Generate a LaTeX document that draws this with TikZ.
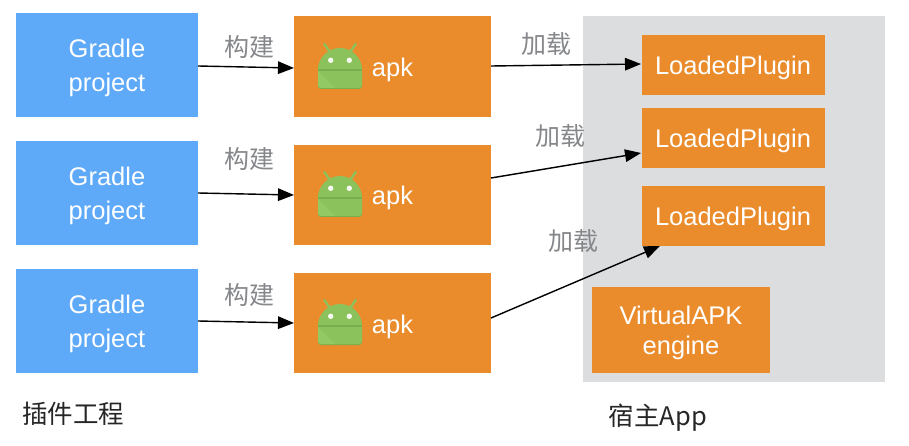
\documentclass[tikz,border=0pt]{standalone}
\usepackage{fontspec}
\setmainfont{Liberation Sans}
\newfontfamily\cjk{Noto Sans CJK SC}
\usetikzlibrary{arrows.meta}
\definecolor{bluebox}{HTML}{5EA9F8}
\definecolor{orangebox}{HTML}{EA8C2C}
\definecolor{hostgrey}{HTML}{DCDDDF}
\definecolor{labelgrey}{HTML}{85878A}
\definecolor{droid}{HTML}{8BC25B}
\definecolor{droiddark}{HTML}{79AE4E}
\definecolor{droidlight}{HTML}{93C964}
\tikzset{
  x=1pt,y=-1pt,
  every node/.style={inner sep=0pt,outer sep=0pt},
  boxtext/.style={text=white,font=\fontsize{25.5}{34}\selectfont,align=center},
  enginetext/.style={text=white,font=\fontsize{25.5}{30}\selectfont,align=center},
  zh/.style={font=\cjk\fontsize{25}{30}\selectfont,text=labelgrey},
  captiontext/.style={font=\cjk\fontsize{25.5}{30}\selectfont,text=black!85},
  link/.style={draw=black,line width=1.4pt,-{Triangle[length=16pt,width=12.5pt]}},
  droidicon/.pic={
    \fill[droid] (-17,-24) -- (-15,-25) -- (-8.5,-16) -- (-11,-15) -- cycle;
    \fill[droid] (17,-24) -- (15,-25) -- (8.5,-16) -- (11,-15) -- cycle;
    \fill[droiddark] (-22,3) arc[start angle=180,end angle=360,radius=22] -- (22,18) arc[start angle=0,end angle=90,radius=3] -- (-19,21) arc[start angle=90,end angle=180,radius=3] -- cycle;
    \fill[droid] (-22,2) arc[start angle=180,end angle=360,radius=22] -- (22,17) arc[start angle=0,end angle=90,radius=3] -- (-19,20) arc[start angle=90,end angle=180,radius=3] -- cycle;
    \fill[droiddark] (-22,1) rectangle (22,3);
    \fill[droidlight] (-22,3) -- (-5,20) -- (-19,20) arc[start angle=90,end angle=180,radius=3] -- cycle;
    \fill[white!92!droid] (-9.3,-7.7) circle[radius=2.7];
    \fill[white!92!droid] (9.3,-7.7) circle[radius=2.7];
  }
}
\begin{document}
\begin{tikzpicture}
\useasboundingbox (0,0) rectangle (909,446);
\node[fill=hostgrey,minimum width=302pt,minimum height=366pt,anchor=north west] (host) at (583,16) {};
% plugin projects
\node[fill=bluebox,minimum width=182pt,minimum height=104pt,anchor=north west] (g1) at (16,13) {};
\node[fill=bluebox,minimum width=182pt,minimum height=104pt,anchor=north west] (g2) at (16,141) {};
\node[fill=bluebox,minimum width=182pt,minimum height=104pt,anchor=north west] (g3) at (16,269) {};
\node[boxtext] (gt1) at (107,67.5) {Gradle\\project};
\node[boxtext] (gt2) at (107,195.5) {Gradle\\project};
\node[boxtext] (gt3) at (107,323.5) {Gradle\\project};
% apk boxes
\node[fill=orangebox,minimum width=197pt,minimum height=101pt,anchor=north west] (a1) at (294,16) {};
\node[fill=orangebox,minimum width=197pt,minimum height=100pt,anchor=north west] (a2) at (294,145) {};
\node[fill=orangebox,minimum width=197pt,minimum height=100pt,anchor=north west] (a3) at (294,273) {};
\pic at (340,68) {droidicon};
\pic at (340,196) {droidicon};
\pic at (340,324) {droidicon};
\node[boxtext,anchor=base] (at1) at (392.5,77) {apk};
\node[boxtext,anchor=base] (at2) at (392.5,205) {apk};
\node[boxtext,anchor=base] (at3) at (392.5,333) {apk};
% host contents
\node[fill=orangebox,minimum width=183pt,minimum height=60pt,anchor=north west] (l1) at (642,35) {};
\node[fill=orangebox,minimum width=183pt,minimum height=60pt,anchor=north west] (l2) at (642,108) {};
\node[fill=orangebox,minimum width=183pt,minimum height=60pt,anchor=north west] (l3) at (642,186) {};
\node[boxtext] (lt1) at (733,68) {LoadedPlugin};
\node[boxtext] (lt2) at (733,141) {LoadedPlugin};
\node[boxtext] (lt3) at (733,219) {LoadedPlugin};
\node[fill=orangebox,minimum width=178pt,minimum height=86pt,anchor=north west] (eng) at (592,287) {};
\node[enginetext] (engt) at (681,333) {VirtualAPK\\engine};
% connectors
\coordinate (s1) at (198,66); \coordinate (e1) at (294,68);
\coordinate (s2) at (198,193); \coordinate (e2) at (294,195);
\coordinate (s3) at (198,321); \coordinate (e3) at (294,323);
\coordinate (p1) at (491,66); \coordinate (q1) at (641,64);
\coordinate (p2) at (491,178); \coordinate (q2) at (641,153);
\coordinate (p3) at (491,318); \coordinate (q3) at (660,246);
\draw[link] (s1) -- (e1);
\draw[link] (s2) -- (e2);
\draw[link] (s3) -- (e3);
\draw[link] (p1) -- (q1);
\draw[link] (p2) -- (q2);
\draw[link] (p3) -- (q3);
% labels
\node[zh] (b1) at (249,47) {构建};
\node[zh] (b2) at (249,159) {构建};
\node[zh] (b3) at (249,295) {构建};
\node[zh] (j1) at (546,44) {加载};
\node[zh] (j2) at (560,136) {加载};
\node[zh] (j3) at (573,241) {加载};
\node[captiontext] (c1) at (73,414) {插件工程};
\node[captiontext] (c2) at (658,418) {宿主App};
\end{tikzpicture}
\end{document}
